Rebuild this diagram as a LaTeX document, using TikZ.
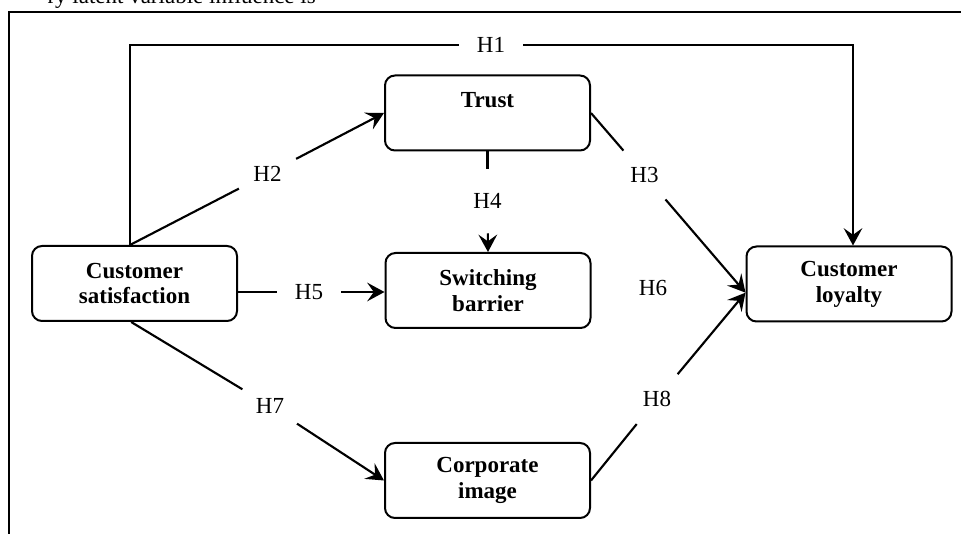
\documentclass[tikz,border=0pt]{standalone}
\usepackage{fontspec}
\setmainfont{Liberation Serif}
\usetikzlibrary{arrows.meta}
\begin{document}
\begin{tikzpicture}[x=0.75pt,y=-0.75pt,
  box/.style={draw,line width=1.5pt,rounded corners=7.5pt,minimum width=153.75pt,
    minimum height=56.25pt,align=center,font=\bfseries\fontsize{17.25pt}{19.5pt}\selectfont},
  hyp/.style={circle,minimum size=48pt,inner sep=0pt,font=\fontsize{17.25pt}{19.5pt}\selectfont},
  link/.style={line width=1.6pt},
  arr/.style={link,-{Stealth[length=13pt,width=14pt,inset=5pt]}}]
\useasboundingbox (0,0) rectangle (961,534);

\node[anchor=base east,inner sep=0pt,font=\fontsize{17.25pt}{19.5pt}\selectfont] (cap) at (316,4) {ry latent variable influence is};
\draw[line width=1.1pt] (9,545) -- (9,12) -- (970,12); % page frame

\node[box] (cs) at (134.5,283.5) {Customer\\satisfaction};
\node[box] (trust) at (487.5,113) {Trust\\\mbox{}};
\node[box] (sb) at (488,290.5) {Switching\\barrier};
\node[box] (ci) at (487.5,480.5) {Corporate\\image};
\node[box] (cl) at (849,284) {Customer\\loyalty};

\node[hyp] (h1) at (491,45) {H1};
\node[hyp] (h2) at (267.5,173.8) {H2};
\node[hyp] (h3) at (644.5,175) {H3};
\node[hyp] (h4) at (487.5,201) {H4};
\node[hyp] (h5) at (309,292) {H5};
\node[hyp] (h6) at (653,288) {H6};
\node[hyp] (h7) at (270,406) {H7};
\node[hyp] (h8) at (657,399) {H8};

\coordinate (root) at ([xshift=-3.4pt]cs.north);
\coordinate (hub) at ([yshift=-6.5pt]cl.west);

\draw[link,line width=1.2pt] (root) |- (h1);
\draw[arr,line width=1.2pt] (h1) -| ([xshift=3pt]cl.north);
\draw[link] (root) -- (h2);
\draw[arr] (h2) -- (trust.west);
\draw[link] (trust.east) -- (h3);
\draw[arr] (h3) -- (hub);
\draw[link] (trust.south) -- (h4);
\draw[arr] (h4) -- (sb.north);
\draw[link] (cs.east |- h5) -- (h5);
\draw[arr] (h5) -- (sb.west |- h5);
\draw[link] ([xshift=-2.5pt]cs.south) -- (h7);
\draw[arr] (h7) -- (ci.west);
\draw[link] (ci.east) -- (h8);
\draw[arr] (h8) -- (hub);
\end{tikzpicture}
\end{document}
